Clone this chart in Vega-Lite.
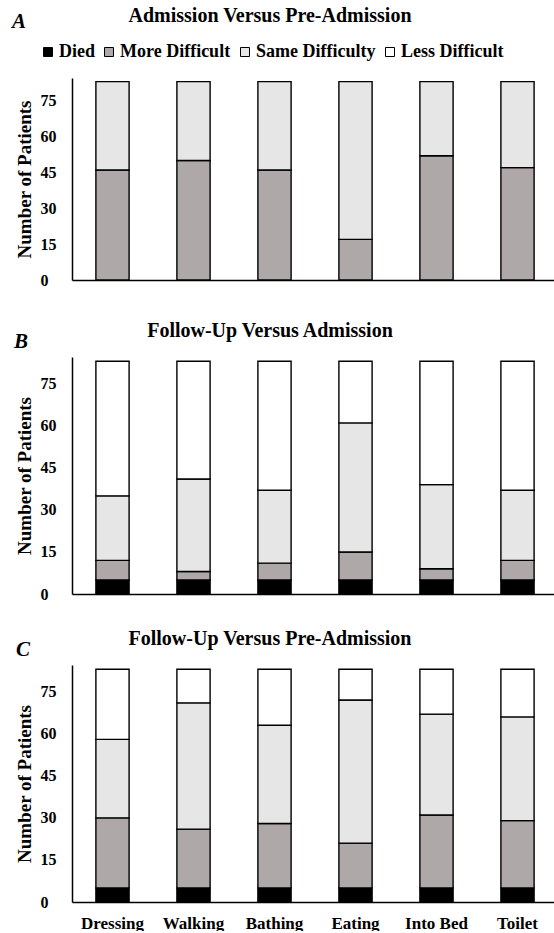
{
  "$schema": "https://vega.github.io/schema/vega-lite/v6.json",
  "padding": {"top": 6, "left": 12, "right": 0, "bottom": 0},
  "config": {
    "font": "Liberation Serif",
    "view": {"stroke": null},
    "axis": {
      "labelFont": "Liberation Serif", "labelFontWeight": "bold", "labelColor": "black",
      "titleFont": "Liberation Serif", "titleFontWeight": "bold", "titleColor": "black",
      "grid": false, "ticks": false, "domainColor": "black", "domainWidth": 1.5
    },
    "title": {"font": "Liberation Serif", "fontWeight": "bold", "fontSize": 20, "color": "black"},
    "legend": {"labelFont": "Liberation Serif", "labelFontWeight": "bold", "labelFontSize": 18, "labelColor": "black"}
  },
  "datasets": {
    "bars": [
      {"panel": "A", "activity": "Dressing", "category": "More Difficult", "count": 46},
      {"panel": "A", "activity": "Dressing", "category": "Same Difficulty", "count": 37},
      {"panel": "A", "activity": "Walking", "category": "More Difficult", "count": 50},
      {"panel": "A", "activity": "Walking", "category": "Same Difficulty", "count": 33},
      {"panel": "A", "activity": "Bathing", "category": "More Difficult", "count": 46},
      {"panel": "A", "activity": "Bathing", "category": "Same Difficulty", "count": 37},
      {"panel": "A", "activity": "Eating", "category": "More Difficult", "count": 17},
      {"panel": "A", "activity": "Eating", "category": "Same Difficulty", "count": 66},
      {"panel": "A", "activity": "Into Bed", "category": "More Difficult", "count": 52},
      {"panel": "A", "activity": "Into Bed", "category": "Same Difficulty", "count": 31},
      {"panel": "A", "activity": "Toilet", "category": "More Difficult", "count": 47},
      {"panel": "A", "activity": "Toilet", "category": "Same Difficulty", "count": 36},

      {"panel": "B", "activity": "Dressing", "category": "Died", "count": 5},
      {"panel": "B", "activity": "Dressing", "category": "More Difficult", "count": 7},
      {"panel": "B", "activity": "Dressing", "category": "Same Difficulty", "count": 23},
      {"panel": "B", "activity": "Dressing", "category": "Less Difficult", "count": 48},
      {"panel": "B", "activity": "Walking", "category": "Died", "count": 5},
      {"panel": "B", "activity": "Walking", "category": "More Difficult", "count": 3},
      {"panel": "B", "activity": "Walking", "category": "Same Difficulty", "count": 33},
      {"panel": "B", "activity": "Walking", "category": "Less Difficult", "count": 42},
      {"panel": "B", "activity": "Bathing", "category": "Died", "count": 5},
      {"panel": "B", "activity": "Bathing", "category": "More Difficult", "count": 6},
      {"panel": "B", "activity": "Bathing", "category": "Same Difficulty", "count": 26},
      {"panel": "B", "activity": "Bathing", "category": "Less Difficult", "count": 46},
      {"panel": "B", "activity": "Eating", "category": "Died", "count": 5},
      {"panel": "B", "activity": "Eating", "category": "More Difficult", "count": 10},
      {"panel": "B", "activity": "Eating", "category": "Same Difficulty", "count": 46},
      {"panel": "B", "activity": "Eating", "category": "Less Difficult", "count": 22},
      {"panel": "B", "activity": "Into Bed", "category": "Died", "count": 5},
      {"panel": "B", "activity": "Into Bed", "category": "More Difficult", "count": 4},
      {"panel": "B", "activity": "Into Bed", "category": "Same Difficulty", "count": 30},
      {"panel": "B", "activity": "Into Bed", "category": "Less Difficult", "count": 44},
      {"panel": "B", "activity": "Toilet", "category": "Died", "count": 5},
      {"panel": "B", "activity": "Toilet", "category": "More Difficult", "count": 7},
      {"panel": "B", "activity": "Toilet", "category": "Same Difficulty", "count": 25},
      {"panel": "B", "activity": "Toilet", "category": "Less Difficult", "count": 46},

      {"panel": "C", "activity": "Dressing", "category": "Died", "count": 5},
      {"panel": "C", "activity": "Dressing", "category": "More Difficult", "count": 25},
      {"panel": "C", "activity": "Dressing", "category": "Same Difficulty", "count": 28},
      {"panel": "C", "activity": "Dressing", "category": "Less Difficult", "count": 25},
      {"panel": "C", "activity": "Walking", "category": "Died", "count": 5},
      {"panel": "C", "activity": "Walking", "category": "More Difficult", "count": 21},
      {"panel": "C", "activity": "Walking", "category": "Same Difficulty", "count": 45},
      {"panel": "C", "activity": "Walking", "category": "Less Difficult", "count": 12},
      {"panel": "C", "activity": "Bathing", "category": "Died", "count": 5},
      {"panel": "C", "activity": "Bathing", "category": "More Difficult", "count": 23},
      {"panel": "C", "activity": "Bathing", "category": "Same Difficulty", "count": 35},
      {"panel": "C", "activity": "Bathing", "category": "Less Difficult", "count": 20},
      {"panel": "C", "activity": "Eating", "category": "Died", "count": 5},
      {"panel": "C", "activity": "Eating", "category": "More Difficult", "count": 16},
      {"panel": "C", "activity": "Eating", "category": "Same Difficulty", "count": 51},
      {"panel": "C", "activity": "Eating", "category": "Less Difficult", "count": 11},
      {"panel": "C", "activity": "Into Bed", "category": "Died", "count": 5},
      {"panel": "C", "activity": "Into Bed", "category": "More Difficult", "count": 26},
      {"panel": "C", "activity": "Into Bed", "category": "Same Difficulty", "count": 36},
      {"panel": "C", "activity": "Into Bed", "category": "Less Difficult", "count": 16},
      {"panel": "C", "activity": "Toilet", "category": "Died", "count": 5},
      {"panel": "C", "activity": "Toilet", "category": "More Difficult", "count": 24},
      {"panel": "C", "activity": "Toilet", "category": "Same Difficulty", "count": 37},
      {"panel": "C", "activity": "Toilet", "category": "Less Difficult", "count": 17}
    ]
  },
  "spacing": 27,
  "resolve": {"legend": {"color": "independent"}},
  "vconcat": [
    {
      "spacing": 33,
      "resolve": {"legend": {"color": "independent"}},
      "vconcat": [
        {
          "title": {"text": "A", "anchor": "start", "frame": "bounds", "fontStyle": "italic", "fontSize": 21, "offset": -26, "dx": -3},
          "resolve": {"legend": {"color": "independent"}},
          "vconcat": [
            {
              "title": {"text": "Admission Versus Pre-Admission", "dx": -45, "offset": 17},
              "width": 486, "height": 202,
              "data": {"name": "bars"},
              "transform": [
                {"filter": "datum.panel == 'A'"},
                {"calculate": "indexof(['Died','More Difficult','Same Difficulty','Less Difficult'], datum.category)", "as": "ord"}
              ],
              "mark": {"type": "bar", "stroke": "black", "strokeWidth": 1.4},
              "encoding": {
                "x": {"field": "activity", "type": "nominal", "sort": ["Dressing", "Walking", "Bathing", "Eating", "Into Bed", "Toilet"],
                      "scale": {"paddingInner": 0.59, "paddingOuter": 0.295},
                      "axis": {"labels": false, "title": null}},
                "y": {"field": "count", "type": "quantitative", "stack": "zero", "scale": {"domain": [0, 84.5], "nice": false},
                      "axis": {"values": [0, 15, 30, 45, 60, 75], "labelAlign": "left", "labelPadding": 32, "labelFontSize": 16, "title": "Number of Patients", "titleFontSize": 19, "titlePadding": 6}},
                "color": {"field": "category", "type": "nominal",
                          "scale": {"domain": ["Died", "More Difficult", "Same Difficulty", "Less Difficult"], "range": ["#000000", "#AEA9A8", "#E6E6E6", "#FFFFFF"]},
                          "legend": {"orient": "none", "legendX": -33, "legendY": -35, "direction": "horizontal", "columns": 4, "title": null,
                                     "symbolType": "square", "symbolSize": 81, "symbolStrokeColor": "black", "symbolStrokeWidth": 1, "symbolOpacity": 1,
                                     "labelOffset": 2, "columnPadding": 5}},
                "order": {"field": "ord", "type": "quantitative"}
              }
            }
          ]
        },
        {
          "title": {"text": "B", "anchor": "start", "frame": "bounds", "fontStyle": "italic", "fontSize": 21, "offset": -31, "dx": -1},
          "resolve": {"legend": {"color": "independent"}},
          "vconcat": [
            {
              "title": {"text": "Follow-Up Versus Admission", "dx": -45, "offset": 16},
              "width": 486, "height": 237,
              "data": {"name": "bars"},
              "transform": [
                {"filter": "datum.panel == 'B'"},
                {"calculate": "indexof(['Died','More Difficult','Same Difficulty','Less Difficult'], datum.category)", "as": "ord"}
              ],
              "mark": {"type": "bar", "stroke": "black", "strokeWidth": 1.4},
              "encoding": {
                "x": {"field": "activity", "type": "nominal", "sort": ["Dressing", "Walking", "Bathing", "Eating", "Into Bed", "Toilet"],
                      "scale": {"paddingInner": 0.59, "paddingOuter": 0.295},
                      "axis": {"labels": false, "title": null}},
                "y": {"field": "count", "type": "quantitative", "stack": "zero", "scale": {"domain": [0, 84.5], "nice": false},
                      "axis": {"values": [0, 15, 30, 45, 60, 75], "labelAlign": "left", "labelPadding": 32, "labelFontSize": 16, "title": "Number of Patients", "titleFontSize": 19, "titlePadding": 6}},
                "color": {"field": "category", "type": "nominal",
                          "scale": {"domain": ["Died", "More Difficult", "Same Difficulty", "Less Difficult"], "range": ["#000000", "#AEA9A8", "#E6E6E6", "#FFFFFF"]},
                          "legend": null},
                "order": {"field": "ord", "type": "quantitative"}
              }
            }
          ]
        }
      ]
    },
    {
      "title": {"text": "C", "anchor": "start", "frame": "bounds", "fontStyle": "italic", "fontSize": 21, "offset": -31, "dx": 1},
      "resolve": {"legend": {"color": "independent"}},
      "vconcat": [
        {
          "title": {"text": "Follow-Up Versus Pre-Admission", "dx": -45, "offset": 16},
          "width": 486, "height": 237,
          "data": {"name": "bars"},
          "transform": [
            {"filter": "datum.panel == 'C'"},
            {"calculate": "indexof(['Died','More Difficult','Same Difficulty','Less Difficult'], datum.category)", "as": "ord"}
          ],
          "mark": {"type": "bar", "stroke": "black", "strokeWidth": 1.4},
          "encoding": {
            "x": {"field": "activity", "type": "nominal", "sort": ["Dressing", "Walking", "Bathing", "Eating", "Into Bed", "Toilet"],
                  "scale": {"paddingInner": 0.59, "paddingOuter": 0.295},
                  "axis": {"labelAngle": 0, "labelFontSize": 17, "labelPadding": 13, "title": null}},
            "y": {"field": "count", "type": "quantitative", "stack": "zero", "scale": {"domain": [0, 84.5], "nice": false},
                  "axis": {"values": [0, 15, 30, 45, 60, 75], "labelAlign": "left", "labelPadding": 32, "labelFontSize": 16, "title": "Number of Patients", "titleFontSize": 19, "titlePadding": 6}},
            "color": {"field": "category", "type": "nominal",
                      "scale": {"domain": ["Died", "More Difficult", "Same Difficulty", "Less Difficult"], "range": ["#000000", "#AEA9A8", "#E6E6E6", "#FFFFFF"]},
                      "legend": null},
            "order": {"field": "ord", "type": "quantitative"}
          }
        }
      ]
    }
  ]
}
